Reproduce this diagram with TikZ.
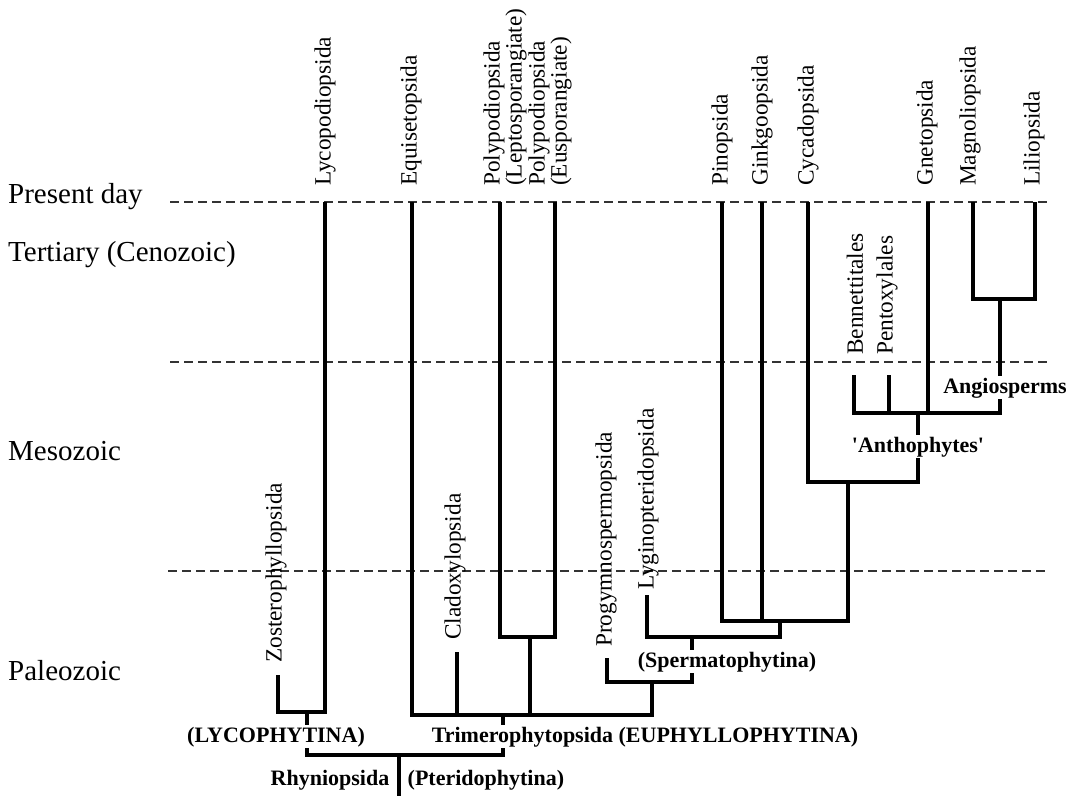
\documentclass[tikz,border=0pt]{standalone}
\usepackage{fontspec}
\setmainfont{Liberation Serif}
\begin{document}
\begin{tikzpicture}[x=1pt,y=-1pt,
  tree/.style={line width=3.6pt},
  era/.style={font=\fontsize{29}{34}\selectfont, anchor=base west, inner sep=0pt},
  taxon/.style={font=\fontsize{23.3}{22}\selectfont, rotate=90, anchor=west, inner sep=0pt, align=left},
  clade/.style={font=\bfseries\fontsize{22}{26}\selectfont, fill=white, inner sep=1.5pt, anchor=base},
  period/.style={line width=1.1pt, black!80, dash pattern=on 9pt off 5pt}]
\useasboundingbox (0,0) rectangle (1073,796);

% period boundaries
\coordinate (p1a) at (170,202); \coordinate (p1b) at (1048,202);
\coordinate (p2a) at (170,362); \coordinate (p2b) at (1048,362);
\coordinate (p3a) at (168,571); \coordinate (p3b) at (1048,571);
\draw[period] (p1a) -- (p1b);
\draw[period] (p2a) -- (p2b);
\draw[period] (p3a) -- (p3b);

% era labels
\node[era] (ePresent) at (8,203) {Present day};
\node[era] (eTert) at (8,261) {Tertiary (Cenozoic)};
\node[era] (eMeso) at (8,460) {Mesozoic};
\node[era] (ePaleo) at (8,680) {Paleozoic};

% tips
\coordinate (zos) at (278,675);
\coordinate (lyc) at (325,202);
\coordinate (equ) at (412,202);
\coordinate (cla) at (457,652);
\coordinate (ple) at (500,202);
\coordinate (peu) at (555,202);
\coordinate (pro) at (607,658);
\coordinate (lyg) at (647,595);
\coordinate (pin) at (722,202);
\coordinate (gin) at (762,202);
\coordinate (cyc) at (808,202);
\coordinate (ben) at (854,375);
\coordinate (pen) at (889,375);
\coordinate (gne) at (928,202);
\coordinate (mag) at (973,202);
\coordinate (lil) at (1035,202);

% junctions
\coordinate (jAng) at (1000,299);
\coordinate (jAnt) at (918,413);
\coordinate (jCyA) at (848,482);
\coordinate (jCon) at (780,621);
\coordinate (jSpe) at (692,637);
\coordinate (jPrg) at (652,682);
\coordinate (jPol) at (530,637);
\coordinate (jTri) at (503,715);
\coordinate (jLyc) at (307,712);
\coordinate (jRoot) at (399,755);
\coordinate (base) at (399,796);

% tree
\draw[tree] (mag) |- (jAng) (lil) |- (jAng);
\draw[tree] (ben) |- (jAnt) (pen) |- (jAnt) (gne) |- (jAnt) (jAng) |- (jAnt);
\draw[tree] (cyc) |- (jCyA) (jAnt) |- (jCyA);
\draw[tree] (pin) |- (jCon) (gin) |- (jCon) (jCyA) |- (jCon);
\draw[tree] (lyg) |- (jSpe) (jCon) |- (jSpe);
\draw[tree] (pro) |- (jPrg) (jSpe) |- (jPrg);
\draw[tree] (ple) |- (jPol) (peu) |- (jPol);
\draw[tree] (equ) |- (jTri) (cla) |- (jTri) (jPol) |- (jTri) (jPrg) |- (jTri);
\draw[tree] (zos) |- (jLyc) (lyc) |- (jLyc);
\draw[tree] (jLyc) |- (jRoot) (jTri) |- (jRoot);
\draw[tree] (jRoot) -- (base);

% taxon labels
\node[taxon] (tLyc) at (325,186) {Lycopodiopsida};
\node[taxon] (tEqu) at (411,186) {Equisetopsida};
\node[taxon] (tPle) at (505,186) {Polypodiopsida\\(Leptosporangiate)};
\node[taxon] (tPeu) at (550,186) {Polypodiopsida\\(Eusporangiate)};
\node[taxon] (tPin) at (722,186) {Pinopsida};
\node[taxon] (tGin) at (762,186) {Ginkgoopsida};
\node[taxon] (tCyc) at (808,186) {Cycadopsida};
\node[taxon] (tGne) at (927,186) {Gnetopsida};
\node[taxon] (tMag) at (970,186) {Magnoliopsida};
\node[taxon] (tLil) at (1034,186) {Liliopsida};
\node[taxon] (tBen) at (855,355) {Bennettitales};
\node[taxon] (tPen) at (887,355) {Pentoxylales};
\node[taxon] (tZos) at (276,663) {Zosterophyllopsida};
\node[taxon] (tCla) at (455,640) {Cladoxylopsida};
\node[taxon] (tPro) at (606,647) {Progymnospermopsida};
\node[taxon] (tLyg) at (648,590) {Lyginopteridopsida};

% clade labels
\node[clade] (cLyc) at (276,742) {(LYCOPHYTINA)};
\node[clade] (cTri) at (645,742) {Trimerophytopsida (EUPHYLLOPHYTINA)};
\node[clade] (cSpe) at (727,667) {(Spermatophytina)};
\node[clade] (cAnt) at (918,452) {\textquotesingle Anthophytes\textquotesingle};
\node[clade] (cAng) at (1005,393) {Angiosperms};
\node[clade, anchor=base east, fill=none] (cRhy) at (391,785) {Rhyniopsida};
\node[clade, anchor=base west, fill=none] (cPte) at (406,785) {(Pteridophytina)};
\end{tikzpicture}
\end{document}
